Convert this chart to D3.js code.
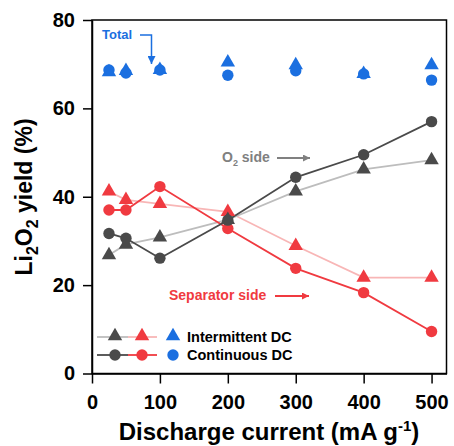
<!DOCTYPE html>
<html><head><meta charset="utf-8">
<script src="https://cdn.jsdelivr.net/npm/d3@7"></script>
<style>body{margin:0;background:#fff}svg{display:block}text{font-family:"Liberation Sans",Arial,sans-serif;font-weight:bold}</style>
</head><body>
<svg id="c" width="454" height="446"></svg>
<script>
const currents = [25, 50, 100, 200, 300, 400, 500];
const totalIntermittent = [68.2, 68.5, 68.7, 70.4, 69.8, 67.8, 69.8];
const totalContinuous = [68.7, 68.0, 68.7, 67.5, 68.5, 67.8, 66.4];
const o2Intermittent = [26.8, 29.2, 30.8, 34.8, 41.2, 46.2, 48.3];
const o2Continuous = [31.7, 30.6, 26.1, 34.7, 44.4, 49.5, 57.0];
const sepIntermittent = [41.2, 39.3, 38.4, 36.6, 28.9, 21.7, 21.7];
const sepContinuous = [37.0, 37.0, 42.3, 32.8, 23.8, 18.3, 9.5];
const xTicks = [0, 100, 200, 300, 400, 500];
const yTicks = [0, 20, 40, 60, 80];

const C = {blue:"#1b6fe0", red:"#f03a40", redLight:"#f8b6b6", dark:"#4a4a4a", grayLight:"#bdbdbd", grayText:"#808080"};
const svg = d3.select("#c");
const L = 92, R = 446.5, T = 20, B = 373.5;
const x = d3.scaleLinear().domain([0, 522]).range([L, R]);
const y = d3.scaleLinear().domain([0, 80]).range([B, T]);

// frame
svg.append("rect").attr("x", L).attr("y", T).attr("width", R - L).attr("height", B - T)
  .attr("fill", "none").attr("stroke", "#000").attr("stroke-width", 1.5);

const ya = svg.append("g").attr("transform", `translate(${L},0)`)
  .call(d3.axisLeft(y).tickValues(yTicks).tickSize(9).tickPadding(8).tickSizeOuter(0));
const xa = svg.append("g").attr("transform", `translate(0,${B})`)
  .call(d3.axisBottom(x).tickValues(xTicks).tickSize(10).tickPadding(11).tickSizeOuter(0));
[ya, xa].forEach(g => {
  g.select(".domain").attr("stroke-width", 1.5);
  g.selectAll(".tick line").attr("stroke-width", 1.5);
  g.selectAll(".tick text").attr("font-size", 20).attr("font-family", '"Liberation Sans",Arial,sans-serif').attr("font-weight", "bold").attr("fill", "#000");
});

// axis titles
const xt = svg.append("text").attr("x", 269).attr("y", 440).attr("text-anchor", "middle").attr("font-size", 24);
xt.append("tspan").text("Discharge current (mA g");
xt.append("tspan").attr("dy", -9).attr("font-size", 15).text("-1");
xt.append("tspan").attr("dy", 9).text(")");

const yt = svg.append("text").attr("transform", "translate(32,197) rotate(-90)").attr("text-anchor", "middle").attr("font-size", 23);
yt.append("tspan").text("Li");
yt.append("tspan").attr("dy", 6).attr("font-size", 16).text("2");
yt.append("tspan").attr("dy", -6).text("O");
yt.append("tspan").attr("dy", 6).attr("font-size", 16).text("2");
yt.append("tspan").attr("dy", -6).text(" yield (%)");

const line = d3.line().x(d => x(d[0])).y(d => y(d[1]));
const zipS = v => currents.map((c, i) => [c, v[i]]);
const tri = d3.symbol().type(d3.symbolTriangle).size(90);

function drawLine(v, color, w) {
  svg.append("path").attr("d", line(zipS(v))).attr("fill", "none").attr("stroke", color).attr("stroke-width", w);
}
function drawTri(v, color) {
  svg.append("g").selectAll("path").data(zipS(v)).join("path")
    .attr("d", tri).attr("transform", d => `translate(${x(d[0])},${y(d[1])})`).attr("fill", color);
}
function drawCirc(v, color) {
  svg.append("g").selectAll("circle").data(zipS(v)).join("circle")
    .attr("cx", d => x(d[0])).attr("cy", d => y(d[1])).attr("r", 5.7).attr("fill", color);
}

drawLine(sepIntermittent, C.redLight, 1.8);
drawLine(o2Intermittent, C.grayLight, 1.8);
drawLine(sepContinuous, C.red, 1.8);
drawLine(o2Continuous, C.dark, 1.8);
drawTri(sepIntermittent, C.red);
drawTri(o2Intermittent, C.dark);
drawCirc(sepContinuous, C.red);
drawCirc(o2Continuous, C.dark);
drawTri(totalIntermittent, C.blue);
drawCirc(totalContinuous, C.blue);

// annotations
const defs = svg.append("defs");
defs.append("marker").attr("id", "ab").attr("viewBox", "0 0 10 10").attr("refX", 10).attr("refY", 5)
  .attr("markerWidth", 12).attr("markerHeight", 8).attr("markerUnits", "userSpaceOnUse")
  .attr("orient", "auto").append("path").attr("d", "M0,0 L10,5 L0,10 Z").attr("fill", C.blue);
defs.append("marker").attr("id", "ag").attr("viewBox", "0 0 10 10").attr("refX", 10).attr("refY", 5)
  .attr("markerWidth", 14).attr("markerHeight", 7).attr("markerUnits", "userSpaceOnUse")
  .attr("orient", "auto").append("path").attr("d", "M0,0 L10,5 L0,10 Z").attr("fill", C.grayText);
defs.append("marker").attr("id", "ar").attr("viewBox", "0 0 10 10").attr("refX", 10).attr("refY", 5)
  .attr("markerWidth", 14).attr("markerHeight", 7).attr("markerUnits", "userSpaceOnUse")
  .attr("orient", "auto").append("path").attr("d", "M0,0 L10,5 L0,10 Z").attr("fill", C.red);

svg.append("text").attr("x", 102).attr("y", 38.5).attr("font-size", 13).attr("fill", C.blue).text("Total");
svg.append("path").attr("d", "M140,35 H151.5 V64").attr("fill", "none").attr("stroke", C.blue).attr("stroke-width", 1.5).attr("marker-end", "url(#ab)");

const o2t = svg.append("text").attr("x", 222).attr("y", 162).attr("font-size", 14).attr("fill", C.grayText);
o2t.append("tspan").text("O");
o2t.append("tspan").attr("dy", 4).attr("font-size", 9).text("2");
o2t.append("tspan").attr("dy", -4).text(" side");
svg.append("path").attr("d", "M277,158 H310").attr("stroke", C.grayText).attr("stroke-width", 1.8).attr("marker-end", "url(#ag)");

svg.append("text").attr("x", 169).attr("y", 300).attr("font-size", 14).attr("fill", C.red).text("Separator side");
svg.append("path").attr("d", "M275,296 H309").attr("stroke", C.red).attr("stroke-width", 1.8).attr("marker-end", "url(#ar)");

// legend
const legRows = [
  {y: 337, label: "Intermittent DC", shape: "tri", lines: [C.grayLight, C.redLight], cols: [C.dark, C.red, C.blue]},
  {y: 355, label: "Continuous DC", shape: "circ", lines: [C.dark, C.red], cols: [C.dark, C.red, C.blue]}
];
legRows.forEach(r => {
  svg.append("line").attr("x1", 97).attr("x2", 128).attr("y1", r.y).attr("y2", r.y).attr("stroke", r.lines[0]).attr("stroke-width", 1.8);
  svg.append("line").attr("x1", 128).attr("x2", 157).attr("y1", r.y).attr("y2", r.y).attr("stroke", r.lines[1]).attr("stroke-width", 1.8);
  [115, 142, 173].forEach((cx, i) => {
    if (r.shape === "tri") svg.append("path").attr("d", tri).attr("transform", `translate(${cx},${r.y - 1})`).attr("fill", r.cols[i]);
    else svg.append("circle").attr("cx", cx).attr("cy", r.y).attr("r", 5.7).attr("fill", r.cols[i]);
  });
  svg.append("text").attr("x", 187).attr("y", r.y + 5).attr("font-size", 14.5).attr("fill", "#000").text(r.label);
});
</script>
</body></html>
